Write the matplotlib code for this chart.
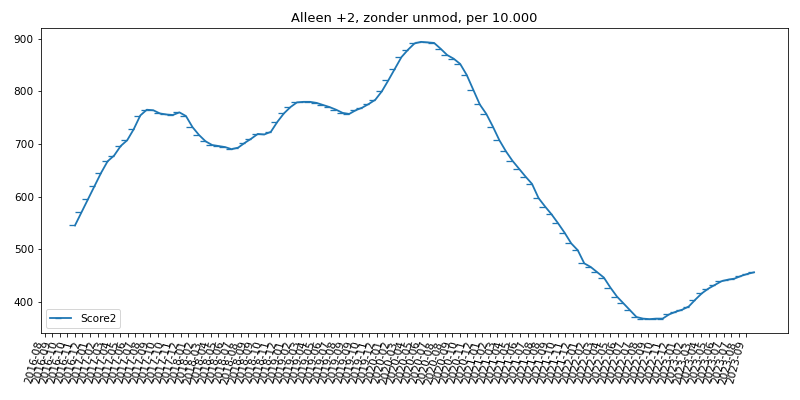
import matplotlib
matplotlib.use("Agg")

import numpy as np
import pandas as pd
import matplotlib.pyplot as plt

# =========================================================
# Data
# =========================================================
TITLE = "Alleen +2, zonder unmod, per 10.000"
SERIES_NAME = "Score2"

# first and last date of the data blocks
DATA_START = "2016-11-27"
DATA_END = "2023-10-23"

score2 = [
    545, 570, 595, 620, 645, 667, 678, 696, 707, 728,
    754, 765, 764, 758, 756, 755, 760, 753, 732, 717,
    705, 698, 696, 694, 690, 693, 702, 710, 719, 718,
    723, 742, 758, 770, 779, 780, 780, 778, 774, 770,
    765, 759, 757, 764, 769, 776, 784, 800, 821, 843,
    865, 879, 891, 894, 893, 892, 881, 869, 862, 852,
    831, 803, 775, 757, 733, 707, 686, 668, 653, 638,
    624, 597, 581, 566, 549, 531, 511, 498, 473, 466,
    456, 446, 427, 410, 397, 384, 371, 368, 367, 368,
    368, 376, 381, 385, 391, 404, 416, 425, 432, 439,
    442, 444, 449, 453, 456,
]

# tick marks every 4 weeks, labelled by month
TICK_START = "2016-08-07"
N_TICKS = 94
TICK_STEP = "28D"

DPI = 72


def main():
    dates = pd.date_range(DATA_START, DATA_END, periods=len(score2))
    tick_dates = pd.date_range(TICK_START, periods=N_TICKS, freq=TICK_STEP)
    tick_labels = tick_dates.strftime("%Y-%m")

    fig = plt.figure(figsize=(800 / DPI, 400 / DPI), dpi=DPI)
    ax = fig.add_axes([0.05125, 0.1675, 0.93375, 0.7625])

    ax.plot(dates, score2, linewidth=1.8, marker=0, markersize=6,
            markeredgewidth=1.3, label=SERIES_NAME)

    ax.set_xticks(tick_dates)
    ax.set_xticklabels(tick_labels, rotation=75, ha="right", fontsize=10.5)
    ax.tick_params(axis="y", labelsize=10.5)
    ax.set_title(TITLE, fontsize=13)
    ax.legend(loc="lower left", fontsize=10.5)

    fig.savefig("out.png", dpi=DPI)


if __name__ == "__main__":
    main()
